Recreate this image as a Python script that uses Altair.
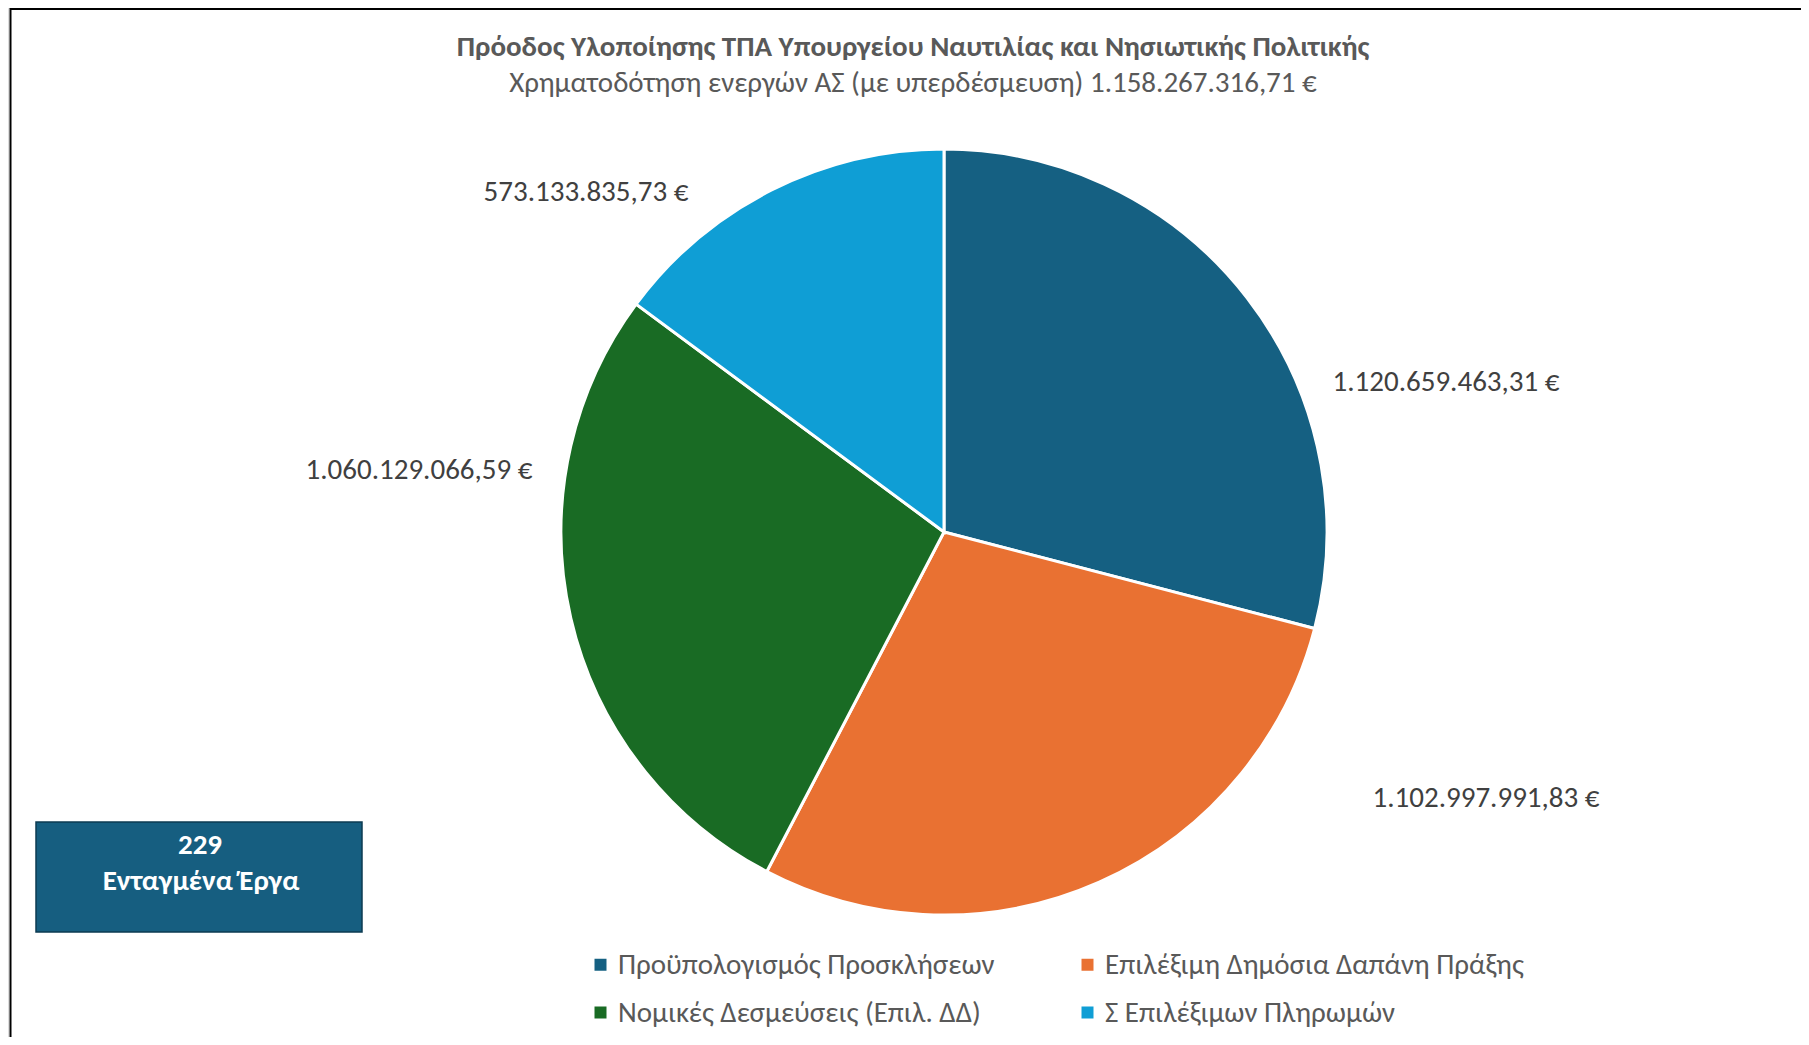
import altair as alt
import pandas as pd

# ---- data ----
categories = [
    "Προϋπολογισμός Προσκλήσεων",
    "Επιλέξιμη Δημόσια Δαπάνη Πράξης",
    "Νομικές Δεσμεύσεις (Επιλ. ΔΔ)",
    "Σ Επιλέξιμων Πληρωμών",
]
values = [1120659463.31, 1102997991.83, 1060129066.59, 573133835.73]
colors = ["#156082", "#E97132", "#196B24", "#0F9ED5"]

title_text = "Πρόοδος Υλοποίησης ΤΠΑ Υπουργείου Ναυτιλίας και Νησιωτικής Πολιτικής"
subtitle_text = "Χρηματοδότηση ενεργών ΑΣ (με υπερδέσμευση) 1.158.267.316,71 €"
box_lines = ["229", "Ενταγμένα Έργα"]


def gr_fmt(v):
    s = f"{v:,.2f}"
    s = s.replace(",", "X").replace(".", ",").replace("X", ".")
    return s + " €"


df = pd.DataFrame({
    "category": categories,
    "value": values,
    "idx": list(range(len(categories))),
    "label": [gr_fmt(v) for v in values],
})

FONT = "Calibri, Carlito, Roboto"
TXT = "#404040"
W, H = 1793, 1029
CX, CY, R = 936, 524, 383
FS = 29

base = alt.Chart(df)

color_scale = alt.Scale(domain=categories, range=colors)

pie = base.mark_arc(radius=R, stroke="white", strokeWidth=3).encode(
    theta=alt.Theta("value:Q", stack=True),
    color=alt.Color(
        "category:N",
        scale=color_scale,
        sort=categories,
        legend=alt.Legend(
            orient="none",
            direction="horizontal",
            legendX=578,
            legendY=942,
            columns=2,
            title=None,
            symbolType="square",
            symbolSize=144,
            symbolStrokeWidth=0,
            labelFontSize=FS,
            labelFont=FONT,
            labelColor="#595959",
            labelOffset=3,
            labelLimit=700,
            columnPadding=78,
            rowPadding=18,
            padding=0,
        ),
    ),
    order=alt.Order("idx:Q"),
    x=alt.value(CX),
    y=alt.value(CY),
)

label_pos = {
    categories[0]: (1438, 374),
    categories[1]: (1478, 790),
    categories[2]: (411, 462),
    categories[3]: (578, 184),
}
label_layers = []
for cat, (lx, ly) in label_pos.items():
    label_layers.append(
        base.transform_filter(alt.datum.category == cat)
        .mark_text(fontSize=FS, font=FONT, color=TXT, align="center", baseline="middle")
        .encode(text="label:N", x=alt.value(lx), y=alt.value(ly))
    )

title = alt.Chart(alt.Data(values=[{"t": title_text}])).mark_text(
    fontSize=FS, font=FONT, fontWeight="bold", color="#595959", align="center", baseline="middle"
).encode(text="t:N", x=alt.value(905), y=alt.value(39))

subtitle = alt.Chart(alt.Data(values=[{"t": subtitle_text}])).mark_text(
    fontSize=FS, font=FONT, color="#595959", align="center", baseline="middle"
).encode(text="t:N", x=alt.value(905), y=alt.value(75))

box = alt.Chart(alt.Data(values=[{"a": 1}])).mark_rect(
    fill="#165E80", stroke="#0D3B52", strokeWidth=1.5
).encode(x=alt.value(28), x2=alt.value(354), y=alt.value(814), y2=alt.value(924))

box_t1 = alt.Chart(alt.Data(values=[{"t": box_lines[0]}])).mark_text(
    fontSize=FS, font=FONT, fontWeight="bold", color="white", align="center", baseline="middle"
).encode(text="t:N", x=alt.value(192), y=alt.value(837))

box_t2 = alt.Chart(alt.Data(values=[{"t": box_lines[1]}])).mark_text(
    fontSize=FS, font=FONT, fontWeight="bold", color="white", align="center", baseline="middle"
).encode(text="t:N", x=alt.value(193), y=alt.value(873))

border_top = alt.Chart(alt.Data(values=[{"a": 1}])).mark_rule(color="#000000", strokeWidth=2).encode(
    x=alt.value(2), x2=alt.value(W), y=alt.value(1)
)
border_left = alt.Chart(alt.Data(values=[{"a": 1}])).mark_rule(color="#000000", strokeWidth=2).encode(
    x=alt.value(2.5), y=alt.value(0), y2=alt.value(H)
)

chart = alt.layer(
    pie, *label_layers, title, subtitle, box, box_t1, box_t2, border_top, border_left
).properties(
    width=W, height=H, autosize=alt.AutoSizeParams(type="none"), padding=0
).configure_view(stroke=None).configure(background="white")

chart.save("out.html", embed_options={"renderer": "svg", "actions": False})
